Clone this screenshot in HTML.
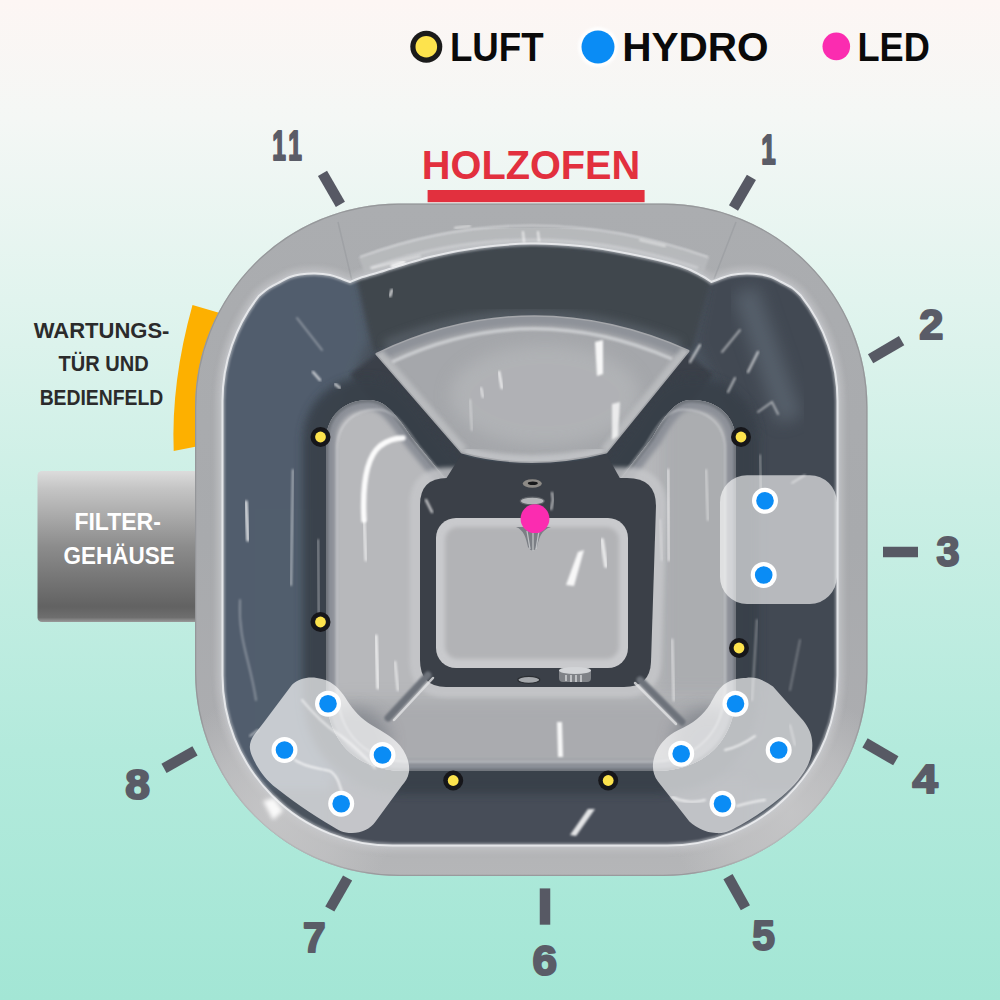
<!DOCTYPE html>
<html lang="de"><head><meta charset="utf-8"><title>Hot Tub</title>
<style>
html,body{margin:0;padding:0;width:1000px;height:1000px;overflow:hidden;background:#cfeee5}
svg{display:block}
text{font-family:"Liberation Sans","DejaVu Sans",sans-serif;font-weight:700}
</style></head><body>
<svg width="1000" height="1000" viewBox="0 0 1000 1000">
<defs>
<linearGradient id="bg" x1="0" y1="0" x2="0" y2="1">
<stop offset="0" stop-color="#fdf6f4"/><stop offset=".12" stop-color="#f4f7f5"/><stop offset=".3" stop-color="#e1f4ee"/>
<stop offset=".5" stop-color="#cbefe5"/><stop offset=".75" stop-color="#b3eadc"/><stop offset="1" stop-color="#a3e6d5"/>
</linearGradient>
<linearGradient id="fbox" x1="0" y1="0" x2="0" y2="1">
<stop offset="0" stop-color="#dcdcdc"/><stop offset=".12" stop-color="#c4c4c4"/><stop offset=".5" stop-color="#8c8c8c"/>
<stop offset=".9" stop-color="#626262"/><stop offset=".97" stop-color="#6e6e6e"/><stop offset="1" stop-color="#9a9a9a"/>
</linearGradient>
<linearGradient id="rimg" x1="0" y1="0" x2="0" y2="1">
<stop offset="0" stop-color="#abadb0"/><stop offset=".5" stop-color="#a8aaad"/><stop offset=".8" stop-color="#acadb0"/><stop offset="1" stop-color="#b5b6b8"/>
</linearGradient>
<radialGradient id="cornl"><stop offset="0" stop-color="#cbcbcc" stop-opacity=".75"/><stop offset=".55" stop-color="#cbcbcc" stop-opacity=".45"/><stop offset="1" stop-color="#cbcbcc" stop-opacity="0"/></radialGradient>
<linearGradient id="seatg" x1="0" y1="0" x2="0" y2="1">
<stop offset="0" stop-color="#a9acb1"/><stop offset="1" stop-color="#9fa2a8"/>
</linearGradient>
<filter id="b2" x="-20%" y="-20%" width="140%" height="140%"><feGaussianBlur stdDeviation="2"/></filter>
<filter id="b4" x="-20%" y="-20%" width="140%" height="140%"><feGaussianBlur stdDeviation="4"/></filter>
<filter id="b8" x="-30%" y="-30%" width="160%" height="160%"><feGaussianBlur stdDeviation="8"/></filter>
<filter id="b1" x="-20%" y="-20%" width="140%" height="140%"><feGaussianBlur stdDeviation="1"/></filter>

<clipPath id="cin"><path d="M837.5,401.0 V675.5 A170,170 0 0 1 667.5,845.5 H392.5 A170,170 0 0 1 222.5,675.5 V401.0 A170,170 0 0 1 259,295.8 C260.7,294.5 265.5,290.3 269.0,288.0 C272.5,285.7 276.5,283.8 280.0,282.0 C283.5,280.2 286.7,278.2 290.0,277.0 C293.3,275.8 295.8,275.1 300.0,274.5 C304.2,273.9 310.0,273.4 315.0,273.5 C320.0,273.6 325.5,274.1 330.0,275.0 C334.5,275.9 338.7,277.8 342.0,279.0 C345.3,280.2 348.7,281.5 350.0,282.0 C351.7,281.3 355.0,279.7 360.0,278.0 C365.0,276.3 368.3,275.5 380.0,272.0 C391.7,268.5 413.3,261.1 430.0,257.0 C446.7,252.9 463.3,249.8 480.0,247.5 C496.7,245.2 513.3,243.8 530.0,243.5 C546.7,243.2 563.3,244.2 580.0,246.0 C596.7,247.8 613.3,250.7 630.0,254.0 C646.7,257.3 668.0,262.3 680.0,266.0 C692.0,269.7 696.8,273.3 702.0,276.0 C707.2,278.7 709.7,281.0 711.2,282.0 C712.5,281.5 715.9,280.2 719.2,279.0 C722.5,277.8 726.7,275.9 731.2,275.0 C735.7,274.1 741.2,273.6 746.2,273.5 C751.2,273.4 757.0,273.9 761.2,274.5 C765.4,275.1 767.9,275.8 771.2,277.0 C774.5,278.2 777.7,280.2 781.2,282.0 C784.7,283.8 788.9,285.7 792.2,288.0 C795.5,290.3 799.5,294.5 801.0,295.8 A170,170 0 0 1 837.5,401.0Z"/></clipPath>
<clipPath id="cout"><path d="M398.7,203.5 H663.8 A203.7,203.7 0 0 1 867.5,407.2 V672.3 A203.7,203.7 0 0 1 663.8,876 H398.7 A203.7,203.7 0 0 1 195,672.3 V407.2 A203.7,203.7 0 0 1 398.7,203.5Z"/></clipPath>
</defs>
<rect width="1000" height="1000" fill="url(#bg)"/>
<path d="M192.5,305 L230,316 L230,440 L194,447 L173.7,451 Q171,382 192.5,305Z" fill="#fdb000"/>
<path d="M42,471 H200 V622 H42 a4.5,4.5 0 0 1 -4.5,-4.5 V475.5 a4.5,4.5 0 0 1 4.5,-4.5Z" fill="url(#fbox)"/>
<path d="M398.7,203.5 H663.8 A203.7,203.7 0 0 1 867.5,407.2 V672.3 A203.7,203.7 0 0 1 663.8,876 H398.7 A203.7,203.7 0 0 1 195,672.3 V407.2 A203.7,203.7 0 0 1 398.7,203.5Z" fill="url(#rimg)"/>
<g clip-path="url(#cout)">
<path d="M398.7,203.5 H663.8 A203.7,203.7 0 0 1 867.5,407.2 V672.3 A203.7,203.7 0 0 1 663.8,876 H398.7 A203.7,203.7 0 0 1 195,672.3 V407.2 A203.7,203.7 0 0 1 398.7,203.5Z" fill="none" stroke="#8d8f92" stroke-width="2.5" opacity=".7"/>
<path d="M837.5,401.0 V675.5 A170,170 0 0 1 667.5,845.5 H392.5 A170,170 0 0 1 222.5,675.5 V401.0 A170,170 0 0 1 259,295.8 C260.7,294.5 265.5,290.3 269.0,288.0 C272.5,285.7 276.5,283.8 280.0,282.0 C283.5,280.2 286.7,278.2 290.0,277.0 C293.3,275.8 295.8,275.1 300.0,274.5 C304.2,273.9 310.0,273.4 315.0,273.5 C320.0,273.6 325.5,274.1 330.0,275.0 C334.5,275.9 338.7,277.8 342.0,279.0 C345.3,280.2 348.7,281.5 350.0,282.0 C351.7,281.3 355.0,279.7 360.0,278.0 C365.0,276.3 368.3,275.5 380.0,272.0 C391.7,268.5 413.3,261.1 430.0,257.0 C446.7,252.9 463.3,249.8 480.0,247.5 C496.7,245.2 513.3,243.8 530.0,243.5 C546.7,243.2 563.3,244.2 580.0,246.0 C596.7,247.8 613.3,250.7 630.0,254.0 C646.7,257.3 668.0,262.3 680.0,266.0 C692.0,269.7 696.8,273.3 702.0,276.0 C707.2,278.7 709.7,281.0 711.2,282.0 C712.5,281.5 715.9,280.2 719.2,279.0 C722.5,277.8 726.7,275.9 731.2,275.0 C735.7,274.1 741.2,273.6 746.2,273.5 C751.2,273.4 757.0,273.9 761.2,274.5 C765.4,275.1 767.9,275.8 771.2,277.0 C774.5,278.2 777.7,280.2 781.2,282.0 C784.7,283.8 788.9,285.7 792.2,288.0 C795.5,290.3 799.5,294.5 801.0,295.8 A170,170 0 0 1 837.5,401.0Z" fill="none" stroke="#c2c3c6" stroke-width="14" opacity=".55" filter="url(#b2)"/>
<path d="M330,876 H730" stroke="#84868a" stroke-width="7" opacity=".7" filter="url(#b1)"/>
<circle cx="275" cy="812" r="120" fill="url(#cornl)"/><circle cx="790" cy="812" r="120" fill="url(#cornl)"/>
<path d="M362,266 Q530,203 706,266" fill="none" stroke="#b9bbbe" stroke-width="19" opacity=".85" filter="url(#b1)"/>
<path d="M360,257 Q530,194 708,257" fill="none" stroke="#e6e7e9" stroke-width="1.6" opacity=".7" filter="url(#b1)"/>
<path d="M370,268 Q530,212 698,268" fill="none" stroke="#d4d5d8" stroke-width="3" opacity=".6" filter="url(#b1)"/>
<path d="M352,281 L338,222 M714,279 L736,222" stroke="#8f9195" stroke-width="1.5" opacity=".4" fill="none"/>
</g>
<path d="M837.5,401.0 V675.5 A170,170 0 0 1 667.5,845.5 H392.5 A170,170 0 0 1 222.5,675.5 V401.0 A170,170 0 0 1 259,295.8 C260.7,294.5 265.5,290.3 269.0,288.0 C272.5,285.7 276.5,283.8 280.0,282.0 C283.5,280.2 286.7,278.2 290.0,277.0 C293.3,275.8 295.8,275.1 300.0,274.5 C304.2,273.9 310.0,273.4 315.0,273.5 C320.0,273.6 325.5,274.1 330.0,275.0 C334.5,275.9 338.7,277.8 342.0,279.0 C345.3,280.2 348.7,281.5 350.0,282.0 C351.7,281.3 355.0,279.7 360.0,278.0 C365.0,276.3 368.3,275.5 380.0,272.0 C391.7,268.5 413.3,261.1 430.0,257.0 C446.7,252.9 463.3,249.8 480.0,247.5 C496.7,245.2 513.3,243.8 530.0,243.5 C546.7,243.2 563.3,244.2 580.0,246.0 C596.7,247.8 613.3,250.7 630.0,254.0 C646.7,257.3 668.0,262.3 680.0,266.0 C692.0,269.7 696.8,273.3 702.0,276.0 C707.2,278.7 709.7,281.0 711.2,282.0 C712.5,281.5 715.9,280.2 719.2,279.0 C722.5,277.8 726.7,275.9 731.2,275.0 C735.7,274.1 741.2,273.6 746.2,273.5 C751.2,273.4 757.0,273.9 761.2,274.5 C765.4,275.1 767.9,275.8 771.2,277.0 C774.5,278.2 777.7,280.2 781.2,282.0 C784.7,283.8 788.9,285.7 792.2,288.0 C795.5,290.3 799.5,294.5 801.0,295.8 A170,170 0 0 1 837.5,401.0Z" fill="#4a535e"/>
<g clip-path="url(#cin)">
<path d="M215,790 V300 L300,255 L357,275 L368,340 L345,395 L326,440 V700 L400,790Z" fill="#52606f" opacity=".85" filter="url(#b4)"/>
<path d="M845,790 V300 L770,255 L710,275 L698,340 L722,395 L738,440 V700 L660,790Z" fill="#434a53" opacity=".9" filter="url(#b4)"/>
<path d="M357,279 Q530,212 712,277 L692,350 Q530,283 374,352Z" fill="#40464e" filter="url(#b2)"/>
<path d="M385,345 Q530,285 680,345" fill="none" stroke="#5b636c" stroke-width="9" opacity=".8" filter="url(#b4)"/>
<rect x="330" y="778" width="420" height="75" fill="#464e58" opacity=".9" filter="url(#b4)"/>
<path d="M745,290 L790,420" stroke="#5e6974" stroke-width="26" opacity=".7" filter="url(#b8)"/>
</g>
<path d="M837.5,401.0 V675.5 A170,170 0 0 1 667.5,845.5 H392.5 A170,170 0 0 1 222.5,675.5 V401.0 A170,170 0 0 1 259,295.8 C260.7,294.5 265.5,290.3 269.0,288.0 C272.5,285.7 276.5,283.8 280.0,282.0 C283.5,280.2 286.7,278.2 290.0,277.0 C293.3,275.8 295.8,275.1 300.0,274.5 C304.2,273.9 310.0,273.4 315.0,273.5 C320.0,273.6 325.5,274.1 330.0,275.0 C334.5,275.9 338.7,277.8 342.0,279.0 C345.3,280.2 348.7,281.5 350.0,282.0 C351.7,281.3 355.0,279.7 360.0,278.0 C365.0,276.3 368.3,275.5 380.0,272.0 C391.7,268.5 413.3,261.1 430.0,257.0 C446.7,252.9 463.3,249.8 480.0,247.5 C496.7,245.2 513.3,243.8 530.0,243.5 C546.7,243.2 563.3,244.2 580.0,246.0 C596.7,247.8 613.3,250.7 630.0,254.0 C646.7,257.3 668.0,262.3 680.0,266.0 C692.0,269.7 696.8,273.3 702.0,276.0 C707.2,278.7 709.7,281.0 711.2,282.0 C712.5,281.5 715.9,280.2 719.2,279.0 C722.5,277.8 726.7,275.9 731.2,275.0 C735.7,274.1 741.2,273.6 746.2,273.5 C751.2,273.4 757.0,273.9 761.2,274.5 C765.4,275.1 767.9,275.8 771.2,277.0 C774.5,278.2 777.7,280.2 781.2,282.0 C784.7,283.8 788.9,285.7 792.2,288.0 C795.5,290.3 799.5,294.5 801.0,295.8 A170,170 0 0 1 837.5,401.0Z" fill="none" stroke="#c9ccd0" stroke-width="5" opacity=".55" filter="url(#b1)"/>
<path d="M837.5,401.0 V675.5 A170,170 0 0 1 667.5,845.5 H392.5 A170,170 0 0 1 222.5,675.5 V401.0 A170,170 0 0 1 259,295.8 C260.7,294.5 265.5,290.3 269.0,288.0 C272.5,285.7 276.5,283.8 280.0,282.0 C283.5,280.2 286.7,278.2 290.0,277.0 C293.3,275.8 295.8,275.1 300.0,274.5 C304.2,273.9 310.0,273.4 315.0,273.5 C320.0,273.6 325.5,274.1 330.0,275.0 C334.5,275.9 338.7,277.8 342.0,279.0 C345.3,280.2 348.7,281.5 350.0,282.0 C351.7,281.3 355.0,279.7 360.0,278.0 C365.0,276.3 368.3,275.5 380.0,272.0 C391.7,268.5 413.3,261.1 430.0,257.0 C446.7,252.9 463.3,249.8 480.0,247.5 C496.7,245.2 513.3,243.8 530.0,243.5 C546.7,243.2 563.3,244.2 580.0,246.0 C596.7,247.8 613.3,250.7 630.0,254.0 C646.7,257.3 668.0,262.3 680.0,266.0 C692.0,269.7 696.8,273.3 702.0,276.0 C707.2,278.7 709.7,281.0 711.2,282.0 C712.5,281.5 715.9,280.2 719.2,279.0 C722.5,277.8 726.7,275.9 731.2,275.0 C735.7,274.1 741.2,273.6 746.2,273.5 C751.2,273.4 757.0,273.9 761.2,274.5 C765.4,275.1 767.9,275.8 771.2,277.0 C774.5,278.2 777.7,280.2 781.2,282.0 C784.7,283.8 788.9,285.7 792.2,288.0 C795.5,290.3 799.5,294.5 801.0,295.8 A170,170 0 0 1 837.5,401.0Z" fill="none" stroke="#f0f1f3" stroke-width="2" opacity=".85"/>
<g clip-path="url(#cin)">
<path d="M366,362 L456,474" stroke="#3a4048" stroke-width="40" filter="url(#b2)"/>
<path d="M698,362 L608,474" stroke="#3a4048" stroke-width="40" filter="url(#b2)"/>
</g>
<clipPath id="cring"><path d="M326,442 C326,415 345,400 368,400 C383,400 392,408 412,438 L448,482 H618 L652,438 C668,410 677,400 692,400 C716,400 736,415 736,442 V690 C736,745 700,771 655,771 H405 C360,771 326,745 326,690Z"/></clipPath>
<g clip-path="url(#cin)"><path d="M326,442 C326,415 345,400 368,400 C383,400 392,408 412,438 L448,482 H618 L652,438 C668,410 677,400 692,400 C716,400 736,415 736,442 V690 C736,745 700,771 655,771 H405 C360,771 326,745 326,690Z" fill="none" stroke="#394049" stroke-width="46" opacity=".9" filter="url(#b4)"/></g>
<path d="M326,442 C326,415 345,400 368,400 C383,400 392,408 412,438 L448,482 H618 L652,438 C668,410 677,400 692,400 C716,400 736,415 736,442 V690 C736,745 700,771 655,771 H405 C360,771 326,745 326,690Z" fill="#b7b8bb"/>
<g clip-path="url(#cring)">
<rect x="660" y="395" width="80" height="300" fill="#a6a8ac" opacity=".7" filter="url(#b8)"/>
<rect x="330" y="700" width="400" height="75" fill="#a4a6aa" opacity=".7" filter="url(#b8)"/>
<ellipse cx="352" cy="742" rx="38" ry="34" fill="#7d8188" opacity=".75" filter="url(#b8)"/>
<ellipse cx="710" cy="742" rx="38" ry="34" fill="#7d8188" opacity=".75" filter="url(#b8)"/>
<path d="M326,442 C326,415 345,400 368,400 C383,400 392,408 412,438 L448,482 H618 L652,438 C668,410 677,400 692,400 C716,400 736,415 736,442 V690 C736,745 700,771 655,771 H405 C360,771 326,745 326,690Z" fill="none" stroke="#8c9098" stroke-width="20" filter="url(#b2)"/>
<path d="M326,442 C326,415 345,400 368,400 C383,400 392,408 412,438 L448,482 H618 L652,438 C668,410 677,400 692,400 C716,400 736,415 736,442 V690 C736,745 700,771 655,771 H405 C360,771 326,745 326,690Z" fill="none" stroke="#6f747c" stroke-width="5" filter="url(#b1)"/>
</g>
<path d="M326,442 C326,415 345,400 368,400 C383,400 392,408 412,438 L448,482 H618 L652,438 C668,410 677,400 692,400 C716,400 736,415 736,442 V690 C736,745 700,771 655,771 H405 C360,771 326,745 326,690Z" fill="none" stroke="#e4e5e7" stroke-width="1.6" opacity=".55" transform="translate(531 588) scale(.947 .95) translate(-531 -588)" filter="url(#b1)"/>
<clipPath id="cwedge"><path d="M377,354 Q530,281 688,351 L606,452 Q530,471 462,452Z"/></clipPath>
<path d="M377,354 Q530,281 688,351 L606,452 Q530,471 462,452Z" fill="#a5a7ab" stroke="#a5a7ab" stroke-width="3" stroke-linejoin="round"/>
<g clip-path="url(#cwedge)">
<ellipse cx="545" cy="395" rx="95" ry="50" fill="#b3b5b8" opacity=".8" filter="url(#b8)"/>
<path d="M377,354 Q530,281 688,351" fill="none" stroke="#8e9299" stroke-width="16" filter="url(#b2)"/>
<path d="M377,354 L462,452 M688,351 L606,452" fill="none" stroke="#bbbdc0" stroke-width="13" opacity=".9" filter="url(#b2)"/>
<path d="M392,362 Q530,297 672,359" fill="none" stroke="#d3d5d8" stroke-width="3.5" opacity=".8" filter="url(#b1)"/>
<path d="M464,451 Q530,468 604,451" fill="none" stroke="#c2c4c7" stroke-width="9" opacity=".9" filter="url(#b2)"/>
</g>
<path d="M447,478 H627 Q656,478 656,506 L651,662 Q650,687 624,687 H446 Q420,687 420,660 V505 Q420,478 447,478Z" fill="none" stroke="#c6c7ca" stroke-width="21" opacity=".8" filter="url(#b2)"/>
<path d="M447,478 H627 Q656,478 656,506 L651,662 Q650,687 624,687 H446 Q420,687 420,660 V505 Q420,478 447,478Z" fill="#3b4048"/>
<path d="M444,482 L461,455 Q530,474 607,455 L622,482Z" fill="#3b4048"/>
<rect x="436" y="518" width="192" height="150" rx="20" fill="#c9cacd"/>
<rect x="445" y="527" width="174" height="132" rx="13" fill="#b2b3b6" filter="url(#b2)"/>
<path d="M428,675 L388,718" stroke="#6d727a" stroke-width="7" stroke-linecap="round" filter="url(#b1)"/>
<path d="M640,680 L682,722" stroke="#6d727a" stroke-width="7" stroke-linecap="round" filter="url(#b1)"/>
<path d="M433,678 L394,720" stroke="#e2e3e5" stroke-width="2.5" stroke-linecap="round" opacity=".8"/>
<path d="M635,683 L676,724" stroke="#e2e3e5" stroke-width="2.5" stroke-linecap="round" opacity=".8"/>
<ellipse cx="532.3" cy="483.5" rx="9.5" ry="4.3" fill="#8d8a86"/><ellipse cx="532.8" cy="483.3" rx="5" ry="1.8" fill="#17181a"/>
<ellipse cx="532.3" cy="501" rx="12" ry="3.9" fill="#b4b6b9" stroke="#5c6066" stroke-width="1.2"/>
<path d="M516,527 C524,530 526,538 528,547 Q532.5,554 537,547 C539,538 541,530 551,527Z" fill="#7b7f85"/>
<path d="M527,531 L530,549 M533,530 L533,551 M539,531 L536,549" stroke="#d0d2d5" stroke-width="1.3" fill="none" opacity=".8"/>
<path d="M552,492 L553,500 L551,510" stroke="#fff" stroke-width="2" fill="none" opacity=".7" filter="url(#b1)"/>
<ellipse cx="528.8" cy="679.8" rx="11" ry="3.5" fill="#a4a7ab" stroke="#2b2e33" stroke-width="1.2"/>
<rect x="559" y="668" width="32" height="14" rx="4" fill="#7f8287"/><ellipse cx="575" cy="670.5" rx="16" ry="3.5" fill="#d3d5d8"/>
<path d="M566,675 V681 M571,675 V682 M576,675 V682 M581,675 V682" stroke="#e3e4e6" stroke-width="1.6" opacity=".8"/>
<path d="M364,520 C362,480 368,456 380,446 C388,440 396,438 403,438" fill="none" stroke="#fff" stroke-width="5.5" stroke-linecap="round" opacity="0.95" filter="url(#b1)"/>
<path d="M364,520 L366,560" fill="none" stroke="#fff" stroke-width="3" stroke-linecap="round" opacity="0.6" filter="url(#b1)"/>
<path d="M376,636 L378,688" fill="none" stroke="#fff" stroke-width="3" stroke-linecap="round" opacity="0.75" filter="url(#b1)"/>
<path d="M395,662 L398,690" fill="none" stroke="#fff" stroke-width="2.5" stroke-linecap="round" opacity="0.6" filter="url(#b1)"/>
<path d="M595,342 L603,340 L603,374 L597,376Z" fill="#fff" opacity="0.9" filter="url(#b1)"/>
<path d="M612,404 L620,402 L618,436 L612,440Z" fill="#fff" opacity="0.75" filter="url(#b1)"/>
<path d="M499,372 L502,388" fill="none" stroke="#fff" stroke-width="2.5" stroke-linecap="round" opacity="0.8" filter="url(#b1)"/>
<path d="M481,388 L483,397" fill="none" stroke="#fff" stroke-width="2" stroke-linecap="round" opacity="0.7" filter="url(#b1)"/>
<path d="M470,400 L472,430" fill="none" stroke="#fff" stroke-width="2" stroke-linecap="round" opacity="0.4" filter="url(#b1)"/>
<path d="M566,585 L578,552 L584,550 L574,586Z" fill="#fff" opacity="0.9" filter="url(#b1)"/>
<path d="M602,540 L606,566" fill="none" stroke="#fff" stroke-width="4" stroke-linecap="round" opacity="0.7" filter="url(#b1)"/>
<path d="M452,540 L452,640" fill="none" stroke="#fff" stroke-width="5" stroke-linecap="round" opacity="0.35" filter="url(#b2)"/>
<path d="M460,528 L600,528" fill="none" stroke="#fff" stroke-width="5" stroke-linecap="round" opacity="0.5" filter="url(#b2)"/>
<path d="M557,722 L562,722 L563,757 L558,757Z" fill="#fff" opacity="0.9" filter="url(#b1)"/>
<path d="M570,835 L588,809 L595,809 L576,836Z" fill="#fff" opacity="0.85" filter="url(#b1)"/>
<path d="M430,742 L640,742" fill="none" stroke="#fff" stroke-width="6" stroke-linecap="round" opacity="0.3" filter="url(#b2)"/>
<path d="M668,470 L669,560" fill="none" stroke="#fff" stroke-width="3" stroke-linecap="round" opacity="0.55" filter="url(#b1)"/>
<path d="M706,470 L708,520" fill="none" stroke="#fff" stroke-width="2" stroke-linecap="round" opacity="0.5" filter="url(#b1)"/>
<path d="M672,640 L674,700" fill="none" stroke="#fff" stroke-width="3" stroke-linecap="round" opacity="0.45" filter="url(#b1)"/>
<path d="M293,470 L291,585" fill="none" stroke="#fff" stroke-width="2" stroke-linecap="round" opacity="0.55" filter="url(#b1)"/>
<path d="M246,502 L248,540" fill="none" stroke="#fff" stroke-width="3.5" stroke-linecap="round" opacity="0.75" filter="url(#b1)"/>
<path d="M318,540 L319,625" fill="none" stroke="#fff" stroke-width="2" stroke-linecap="round" opacity="0.45" filter="url(#b1)"/>
<path d="M240,600 C238,640 250,660 256,700" fill="none" stroke="#fff" stroke-width="2" stroke-linecap="round" opacity="0.3" filter="url(#b1)"/>
<path d="M297,318 L322,350" fill="none" stroke="#fff" stroke-width="2" stroke-linecap="round" opacity="0.35" filter="url(#b1)"/>
<path d="M313,372 L320,380" fill="none" stroke="#fff" stroke-width="2.5" stroke-linecap="round" opacity="0.7" filter="url(#b1)"/>
<path d="M335,384 L340,388" fill="none" stroke="#fff" stroke-width="2.5" stroke-linecap="round" opacity="0.7" filter="url(#b1)"/>
<path d="M392,290 L390,296" fill="none" stroke="#fff" stroke-width="2.5" stroke-linecap="round" opacity="0.8" filter="url(#b1)"/>
<path d="M404,262 L392,266" fill="none" stroke="#fff" stroke-width="3" stroke-linecap="round" opacity="0.8" filter="url(#b1)"/>
<path d="M372,268 L420,256" fill="none" stroke="#fff" stroke-width="2" stroke-linecap="round" opacity="0.5" filter="url(#b1)"/>
<path d="M740,330 L722,352" fill="none" stroke="#fff" stroke-width="2" stroke-linecap="round" opacity="0.5" filter="url(#b1)"/>
<path d="M700,345 L690,362" fill="none" stroke="#fff" stroke-width="2.5" stroke-linecap="round" opacity="0.6" filter="url(#b1)"/>
<path d="M758,352 L748,372" fill="none" stroke="#fff" stroke-width="2.5" stroke-linecap="round" opacity="0.6" filter="url(#b1)"/>
<path d="M735,378 L728,392" fill="none" stroke="#fff" stroke-width="2" stroke-linecap="round" opacity="0.6" filter="url(#b1)"/>
<path d="M758,412 L772,402 L778,414" fill="none" stroke="#fff" stroke-width="2" stroke-linecap="round" opacity="0.5" filter="url(#b1)"/>
<path d="M852,262 L856,272" fill="none" stroke="#fff" stroke-width="2" stroke-linecap="round" opacity="0.0" filter="url(#b1)"/>
<path d="M426,500 L432,512" fill="none" stroke="#fff" stroke-width="2.5" stroke-linecap="round" opacity="0.7" filter="url(#b1)"/>
<path d="M447,560 L447,600" fill="none" stroke="#fff" stroke-width="2" stroke-linecap="round" opacity="0.3" filter="url(#b1)"/>
<path d="M660,520 L662,560" fill="none" stroke="#fff" stroke-width="2" stroke-linecap="round" opacity="0.3" filter="url(#b1)"/>
<path d="M263,801 L274,798 L283,811 L273,820Z" fill="#fff" opacity="0.9" filter="url(#b2)"/>
<path d="M455,228 L470,226" fill="none" stroke="#fff" stroke-width="2" stroke-linecap="round" opacity="0.6" filter="url(#b1)"/>
<path d="M523,232 L524,242 M538,232 L539,241" fill="none" stroke="#fff" stroke-width="2" stroke-linecap="round" opacity="0.7" filter="url(#b1)"/>
<path d="M640,240 L665,246" fill="none" stroke="#fff" stroke-width="2" stroke-linecap="round" opacity="0.5" filter="url(#b1)"/>
<path d="M757,470 L757,520" fill="none" stroke="#fff" stroke-width="2" stroke-linecap="round" opacity="0.35" filter="url(#b1)"/>
<path d="M757,620 L752,700" fill="none" stroke="#fff" stroke-width="2" stroke-linecap="round" opacity="0.35" filter="url(#b1)"/>
<path d="M800,640 L790,690" fill="none" stroke="#fff" stroke-width="2" stroke-linecap="round" opacity="0.25" filter="url(#b1)"/>
<rect x="720" y="475.2" width="116.8" height="128.8" rx="27" fill="#fff" opacity=".62"/>
<path d="M263.5,722.7 L292,684.7 C300,677 312,676 322,679 C334,682 340,690 345,697 C351,707 358,716 368,722.7 C378,729 392,736 400,745.5 C407,754 410,764 409,772 C408,778 405,782 402,785.4 L375.6,821.5 C370,829 362,833 352,833 C343,833 338,830 333.8,827.2 C310,813 290,799 273,785.4 C262,776 256,765 252,756 C248,747 250,741 254,735Z" fill="#fff" opacity=".68"/>
<path d="M746,678 C752,677 758,678 761.6,680 C766,682 770,684 773,686.6 L803.4,720.8 C808,727 811,732 812,740 C813,748 812,757 807.2,766.4 C800,780 790,790 776.8,800.6 C765,810 750,821 731.2,830 C725,833 720,833.5 716,833 C710,832.5 706,831.5 702.7,830 C698,828 693,825 689.4,821.5 L658,781.6 C654,776 652.5,770 653,764 C653.5,757 657,748 662.8,741.7 C668,736 673,733 678,730.3 C686,726 692,723 697,718.9 C703,714 707,709 710.3,703.7 C714,697 716,693 719.8,688.5 C724,683.5 730,680.5 735,679.3 C739,678.3 743,678 746,678Z" fill="#fff" opacity=".66"/>
<path d="M302,700 C312,712 326,726 338,734 C350,742 364,756 375,768" fill="none" stroke="#fff" stroke-width="2.2" stroke-linecap="round" opacity="0.55" filter="url(#b1)"/>
<path d="M295,760 C306,768 320,768 330,771 C338,776 340,786 343,796" fill="none" stroke="#fff" stroke-width="1.8" stroke-linecap="round" opacity="0.8" filter="url(#b1)"/>
<path d="M250,736 L258,730" fill="none" stroke="#fff" stroke-width="1.6" stroke-linecap="round" opacity="0.6" filter="url(#b1)"/>
<path d="M725,750 C735,748 745,743 755,736" fill="none" stroke="#fff" stroke-width="2" stroke-linecap="round" opacity="0.75" filter="url(#b1)"/>
<path d="M672,797 C682,802 695,803 705,800" fill="none" stroke="#fff" stroke-width="2" stroke-linecap="round" opacity="0.7" filter="url(#b1)"/>
<path d="M737,806 C748,803 756,801 765,800" fill="none" stroke="#fff" stroke-width="2" stroke-linecap="round" opacity="0.7" filter="url(#b1)"/>
<path d="M790,725 L795,745" fill="none" stroke="#fff" stroke-width="1.6" stroke-linecap="round" opacity="0.45" filter="url(#b1)"/>
<path d="M760,455 L761,492" fill="none" stroke="#fff" stroke-width="1.6" stroke-linecap="round" opacity="0.5" filter="url(#b1)"/>
<path d="M792,483 L805,475" fill="none" stroke="#fff" stroke-width="1.6" stroke-linecap="round" opacity="0.5" filter="url(#b1)"/>
<circle cx="765.0" cy="500.7" r="13" fill="#fff"/><circle cx="765.0" cy="500.7" r="8.8" fill="#0a8cf5"/>
<circle cx="763.7" cy="575.0" r="13" fill="#fff"/><circle cx="763.7" cy="575.0" r="8.8" fill="#0a8cf5"/>
<circle cx="328.0" cy="703.7" r="13" fill="#fff"/><circle cx="328.0" cy="703.7" r="8.8" fill="#0a8cf5"/>
<circle cx="284.5" cy="750.0" r="13" fill="#fff"/><circle cx="284.5" cy="750.0" r="8.8" fill="#0a8cf5"/>
<circle cx="382.5" cy="755.0" r="13" fill="#fff"/><circle cx="382.5" cy="755.0" r="8.8" fill="#0a8cf5"/>
<circle cx="341.2" cy="803.7" r="13" fill="#fff"/><circle cx="341.2" cy="803.7" r="8.8" fill="#0a8cf5"/>
<circle cx="735.5" cy="703.7" r="13" fill="#fff"/><circle cx="735.5" cy="703.7" r="8.8" fill="#0a8cf5"/>
<circle cx="681.2" cy="753.7" r="13" fill="#fff"/><circle cx="681.2" cy="753.7" r="8.8" fill="#0a8cf5"/>
<circle cx="778.7" cy="750.0" r="13" fill="#fff"/><circle cx="778.7" cy="750.0" r="8.8" fill="#0a8cf5"/>
<circle cx="722.5" cy="803.7" r="13" fill="#fff"/><circle cx="722.5" cy="803.7" r="8.8" fill="#0a8cf5"/>
<circle cx="320.5" cy="437.0" r="10" fill="#16161a"/><circle cx="320.5" cy="437.0" r="5.4" fill="#fde34d"/>
<circle cx="320.5" cy="622.0" r="10" fill="#16161a"/><circle cx="320.5" cy="622.0" r="5.4" fill="#fde34d"/>
<circle cx="741.0" cy="437.0" r="10" fill="#16161a"/><circle cx="741.0" cy="437.0" r="5.4" fill="#fde34d"/>
<circle cx="739.0" cy="648.0" r="10" fill="#16161a"/><circle cx="739.0" cy="648.0" r="5.4" fill="#fde34d"/>
<circle cx="453.2" cy="780.5" r="10" fill="#16161a"/><circle cx="453.2" cy="780.5" r="5.4" fill="#fde34d"/>
<circle cx="608.2" cy="780.5" r="10" fill="#16161a"/><circle cx="608.2" cy="780.5" r="5.4" fill="#fde34d"/>
<circle cx="535" cy="518.7" r="14.4" fill="#fb2cb0"/>
<path d="M322.5,173.4 L340.4,204.4" stroke="#575964" stroke-width="10.5"/>
<path d="M751.4,177.4 L733.5,208.0" stroke="#575964" stroke-width="10.5"/>
<path d="M870.6,358.8 L901.6,340.6" stroke="#575964" stroke-width="10.5"/>
<path d="M883.0,552.0 L918.0,552.0" stroke="#575964" stroke-width="10.5"/>
<path d="M865.0,742.9 L895.8,760.8" stroke="#575964" stroke-width="10.5"/>
<path d="M728.0,876.6 L745.4,907.8" stroke="#575964" stroke-width="10.5"/>
<path d="M545.0,888.4 L545.0,924.7" stroke="#575964" stroke-width="10.5"/>
<path d="M347.6,878.0 L329.8,909.0" stroke="#575964" stroke-width="10.5"/>
<path d="M164.0,768.4 L195.0,750.9" stroke="#575964" stroke-width="10.5"/>
<rect x="427.6" y="190" width="217" height="12.2" fill="#e2303e"/>
<text transform="translate(272.37 159.80) scale(0.2450 0.4232)" font-size="100" fill="#5a5c67" stroke="#5a5c67" stroke-width="5" stroke-linejoin="round"><tspan x="0">1</tspan><tspan x="65.3">1</tspan></text>
<text transform="translate(761.28 164.10) scale(0.2600 0.4232)" font-size="100" fill="#5a5c67" stroke="#5a5c67" stroke-width="5.0" stroke-linejoin="round">1</text>
<text transform="translate(919.30 338.90) scale(0.4327 0.4186)" font-size="100" fill="#5a5c67" stroke="#5a5c67" stroke-width="5.0" stroke-linejoin="round">2</text>
<text transform="translate(936.57 565.78) scale(0.4140 0.4225)" font-size="100" fill="#5a5c67" stroke="#5a5c67" stroke-width="5.0" stroke-linejoin="round">3</text>
<text transform="translate(912.49 792.50) scale(0.4547 0.4159)" font-size="100" fill="#5a5c67" stroke="#5a5c67" stroke-width="5.0" stroke-linejoin="round">4</text>
<text transform="translate(752.18 949.88) scale(0.4080 0.4243)" font-size="100" fill="#5a5c67" stroke="#5a5c67" stroke-width="5.0" stroke-linejoin="round">5</text>
<text transform="translate(532.43 974.57) scale(0.4417 0.4296)" font-size="100" fill="#5a5c67" stroke="#5a5c67" stroke-width="5.0" stroke-linejoin="round">6</text>
<text transform="translate(302.97 951.73) scale(0.4064 0.4294)" font-size="100" fill="#5a5c67" stroke="#5a5c67" stroke-width="5.0" stroke-linejoin="round">7</text>
<text transform="translate(125.17 798.57) scale(0.4440 0.4296)" font-size="100" fill="#5a5c67" stroke="#5a5c67" stroke-width="5.0" stroke-linejoin="round">8</text>
<text transform="translate(421.82 178.60) scale(0.3974 0.4087)" font-size="100" fill="#e2303e">HOLZOFEN</text>
<text transform="translate(449.93 60.60) scale(0.3665 0.4058)" font-size="100" fill="#0a0a0a">LUFT</text>
<text transform="translate(622.16 60.60) scale(0.4057 0.4058)" font-size="100" fill="#0a0a0a">HYDRO</text>
<text transform="translate(857.47 60.60) scale(0.3619 0.4058)" font-size="100" fill="#0a0a0a">LED</text>
<circle cx="426.3" cy="46.7" r="16" fill="#1b1b1b"/><circle cx="426.3" cy="46.7" r="10.8" fill="#fde34d"/>
<circle cx="598" cy="47" r="20" fill="#fff" opacity=".9" filter="url(#b1)"/><circle cx="598" cy="47" r="16.5" fill="#0a8cf5"/>
<circle cx="836.3" cy="46.4" r="13.8" fill="#fb2cb0"/>
<text transform="translate(33.70 338.00) scale(0.2202 0.2246)" font-size="100" fill="#2b2b2b">WARTUNGS-</text>
<text transform="translate(58.50 371.30) scale(0.2007 0.2246)" font-size="100" fill="#2b2b2b">TÜR UND</text>
<text transform="translate(39.65 405.00) scale(0.1935 0.2261)" font-size="100" fill="#2b2b2b">BEDIENFELD</text>
<text transform="translate(74.39 530.00) scale(0.2301 0.2420)" font-size="100" fill="#fff">FILTER-</text>
<text transform="translate(63.60 564.30) scale(0.2248 0.2406)" font-size="100" fill="#fff">GEHÄUSE</text>
</svg></body></html>
